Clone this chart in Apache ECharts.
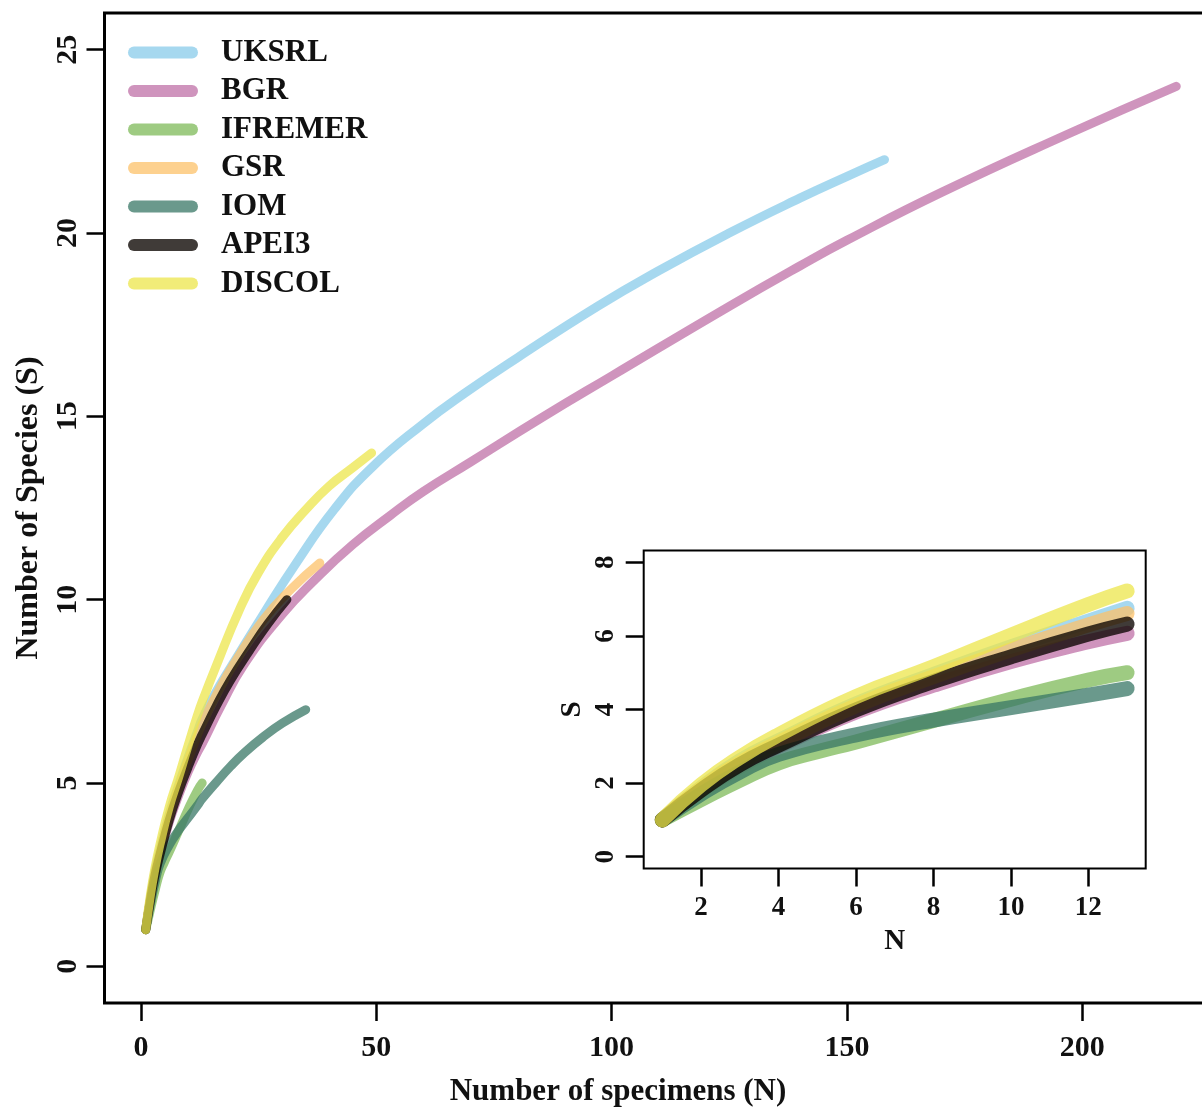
<!DOCTYPE html>
<html><head><meta charset="utf-8">
<script src="https://cdn.jsdelivr.net/npm/echarts@6/dist/echarts.min.js"></script>
<style>html,body{margin:0;padding:0;background:#fff}#c{width:1202px;height:1109px}</style>
</head><body><div id="c"></div>
<script>
// ---- data ----
const seriesNames = ['UKSRL','BGR','IFREMER','GSR','IOM','APEI3','DISCOL'];

const uksrlN = [1,2,3,4,6,8,10,12,13,16,20,26,33,41,49,60,69,80,97,110,125,140,151,158];
const uksrlS = [1,1.87,2.6,3.15,4.15,4.95,5.7,6.4,6.75,7.5,8.35,9.6,11.0,12.45,13.6,14.8,15.65,16.6,18.0,18.97,20.0,20.95,21.6,22.0];

const bgrN = [1,2,3,4,6,8,10,12,13,17,22,30,37,45,53,60,70,85,100,125,140,150,170,197,220];
const bgrS = [1,1.8,2.45,3.0,3.93,4.66,5.3,5.84,6.07,7.1,8.25,9.6,10.55,11.5,12.3,12.95,13.75,14.95,16.1,18.0,19.1,19.8,21.1,22.7,24.0];

const ifremerN = [1,2,3,4,5,6,8,10,12,13];
const ifremerS = [1,1.55,2.08,2.55,2.85,3.12,3.7,4.28,4.8,5.0];

const gsrN = [1,2,3,4,6,8,10,12,13,16,20,26,32,38];
const gsrS = [1,1.85,2.55,3.1,4.1,4.89,5.62,6.3,6.61,7.4,8.3,9.45,10.3,11.0];

const iomN = [1,2,3,4,6,8,10,12,13,16,19,22,26,30,35];
const iomS = [1,1.7,2.3,2.78,3.31,3.71,4.05,4.39,4.57,5.02,5.45,5.83,6.26,6.63,7.0];

const apei3N = [1,2,3,4,6,8,10,12,13,16,19,23,27,31];
const apei3S = [1,1.81,2.5,3.03,3.99,4.76,5.43,6.05,6.32,7.1,7.8,8.6,9.35,10.0];

const discolN = [1,2,3,4,6,8,10,12,13,16,21,25,30,35,40,45,49];
const discolS = [1,1.95,2.7,3.31,4.35,5.16,6.02,6.85,7.22,8.2,9.75,10.75,11.7,12.45,13.1,13.6,14.0];

const mainXTicks = [0,50,100,150,200];
const mainYTicks = [0,5,10,15,20,25];
const insetXTicks = [2,4,6,8,10,12];
const insetYTicks = [0,2,4,6,8];
const insetMaxN = 13;

const seriesColors = [
  'rgba(136,203,233,0.75)',
  'rgba(191,112,167,0.75)',
  'rgba(125,185,88,0.75)',
  'rgba(252,193,105,0.75)',
  'rgba(56,119,101,0.75)',
  'rgba(10,4,0,0.78)',
  'rgba(236,229,75,0.75)'
];

// ---- build ----
const allN = [uksrlN,bgrN,ifremerN,gsrN,iomN,apei3N,discolN];
const allS = [uksrlS,bgrS,ifremerS,gsrS,iomS,apei3S,discolS];
const F = '"Liberation Serif","Times New Roman",serif';
const txt = (size) => ({fontSize:size,fontWeight:'bold',fontFamily:F,color:'#111'});

const series = [];
seriesNames.forEach((nm,i)=>{
  const pts = allN[i].map((n,k)=>[n, allS[i][k]]);
  series.push({
    name:nm, type:'line', xAxisIndex:0, yAxisIndex:0, data:pts,
    smooth:0.5, showSymbol:false, symbol:'none',
    color:seriesColors[i],
    lineStyle:{width:9,color:seriesColors[i],cap:'round',join:'round'},
    emphasis:{disabled:true}, silent:true
  });
});
seriesNames.forEach((nm,i)=>{
  const pts = allN[i].map((n,k)=>[n, allS[i][k]]).filter(p=>p[0]<=insetMaxN);
  series.push({
    name:nm, type:'line', xAxisIndex:1, yAxisIndex:1, data:pts,
    smooth:0.5, showSymbol:false, symbol:'none',
    color:seriesColors[i],
    lineStyle:{width:15,color:seriesColors[i],cap:'round',join:'round'},
    emphasis:{disabled:true}, silent:true
  });
});

const tickStyle = (len,w)=>({show:true,inside:false,length:len,lineStyle:{color:'#000',width:w}});
const noLine = {show:false,onZero:false};

const option = {
  animation:false,
  backgroundColor:'#fff',
  legend:{
    data:seriesNames, orient:'vertical', left:123, top:32, padding:5,
    itemWidth:70, itemHeight:12, itemGap:7.5, selectedMode:false,
    icon:'path://M6,0L64,0A6,6,0,0,1,64,12L6,12A6,6,0,0,1,6,0Z',
    textStyle:Object.assign(txt(31),{lineHeight:31,padding:[0,0,0,18]})
  },
  grid:[
    {left:104.5, top:13, width:1113, height:990, show:true, borderColor:'#000', borderWidth:3,
     backgroundColor:'transparent', containLabel:false, outerBoundsMode:'none'},
    {left:643.7, top:550.5, width:502, height:318, show:true, borderColor:'#000', borderWidth:2,
     backgroundColor:'#fff', containLabel:false, outerBoundsMode:'none'}
  ],
  xAxis:[
    {type:'value', gridIndex:0, min:-7.76, max:228.76, position:'bottom',
     axisLine:noLine, splitLine:{show:false},
     axisTick:Object.assign(tickStyle(18,2.5),{customValues:mainXTicks}),
     axisLabel:Object.assign(txt(30),{customValues:mainXTicks, margin:30}),
     name:'Number of specimens (N)', nameLocation:'middle', nameGap:73, nameMoveOverlap:false,
     nameTextStyle:Object.assign(txt(31),{padding:[0,86,0,0]})},
    {type:'value', gridIndex:1, min:0.52, max:13.48, position:'bottom',
     axisLine:noLine, splitLine:{show:false},
     axisTick:Object.assign(tickStyle(18,2.5),{customValues:insetXTicks}),
     axisLabel:Object.assign(txt(27),{customValues:insetXTicks, margin:26}),
     name:'N', nameLocation:'middle', nameGap:59, nameMoveOverlap:false, nameTextStyle:txt(29)}
  ],
  yAxis:[
    {type:'value', gridIndex:0, min:-1, max:26, position:'left',
     axisLine:noLine, splitLine:{show:false},
     axisTick:Object.assign(tickStyle(18,2.5),{customValues:mainYTicks}),
     axisLabel:Object.assign(txt(30),{customValues:mainYTicks, margin:21, rotate:90}),
     name:'Number of Species (S)', nameLocation:'middle', nameGap:60, nameRotate:90, nameMoveOverlap:false,
     nameTextStyle:txt(32)},
    {type:'value', gridIndex:1, min:-0.32, max:8.32, position:'left',
     axisLine:noLine, splitLine:{show:false},
     axisTick:Object.assign(tickStyle(18,2.5),{customValues:insetYTicks}),
     axisLabel:Object.assign(txt(27),{customValues:insetYTicks, margin:24, rotate:90}),
     name:'S', nameLocation:'middle', nameGap:57, nameRotate:90, nameMoveOverlap:false, nameTextStyle:txt(29)}
  ],
  series:series
};
const chart = echarts.init(document.getElementById('c'), null, {renderer:'canvas', width:1202, height:1109});
chart.setOption(option);
</script>
</body></html>
